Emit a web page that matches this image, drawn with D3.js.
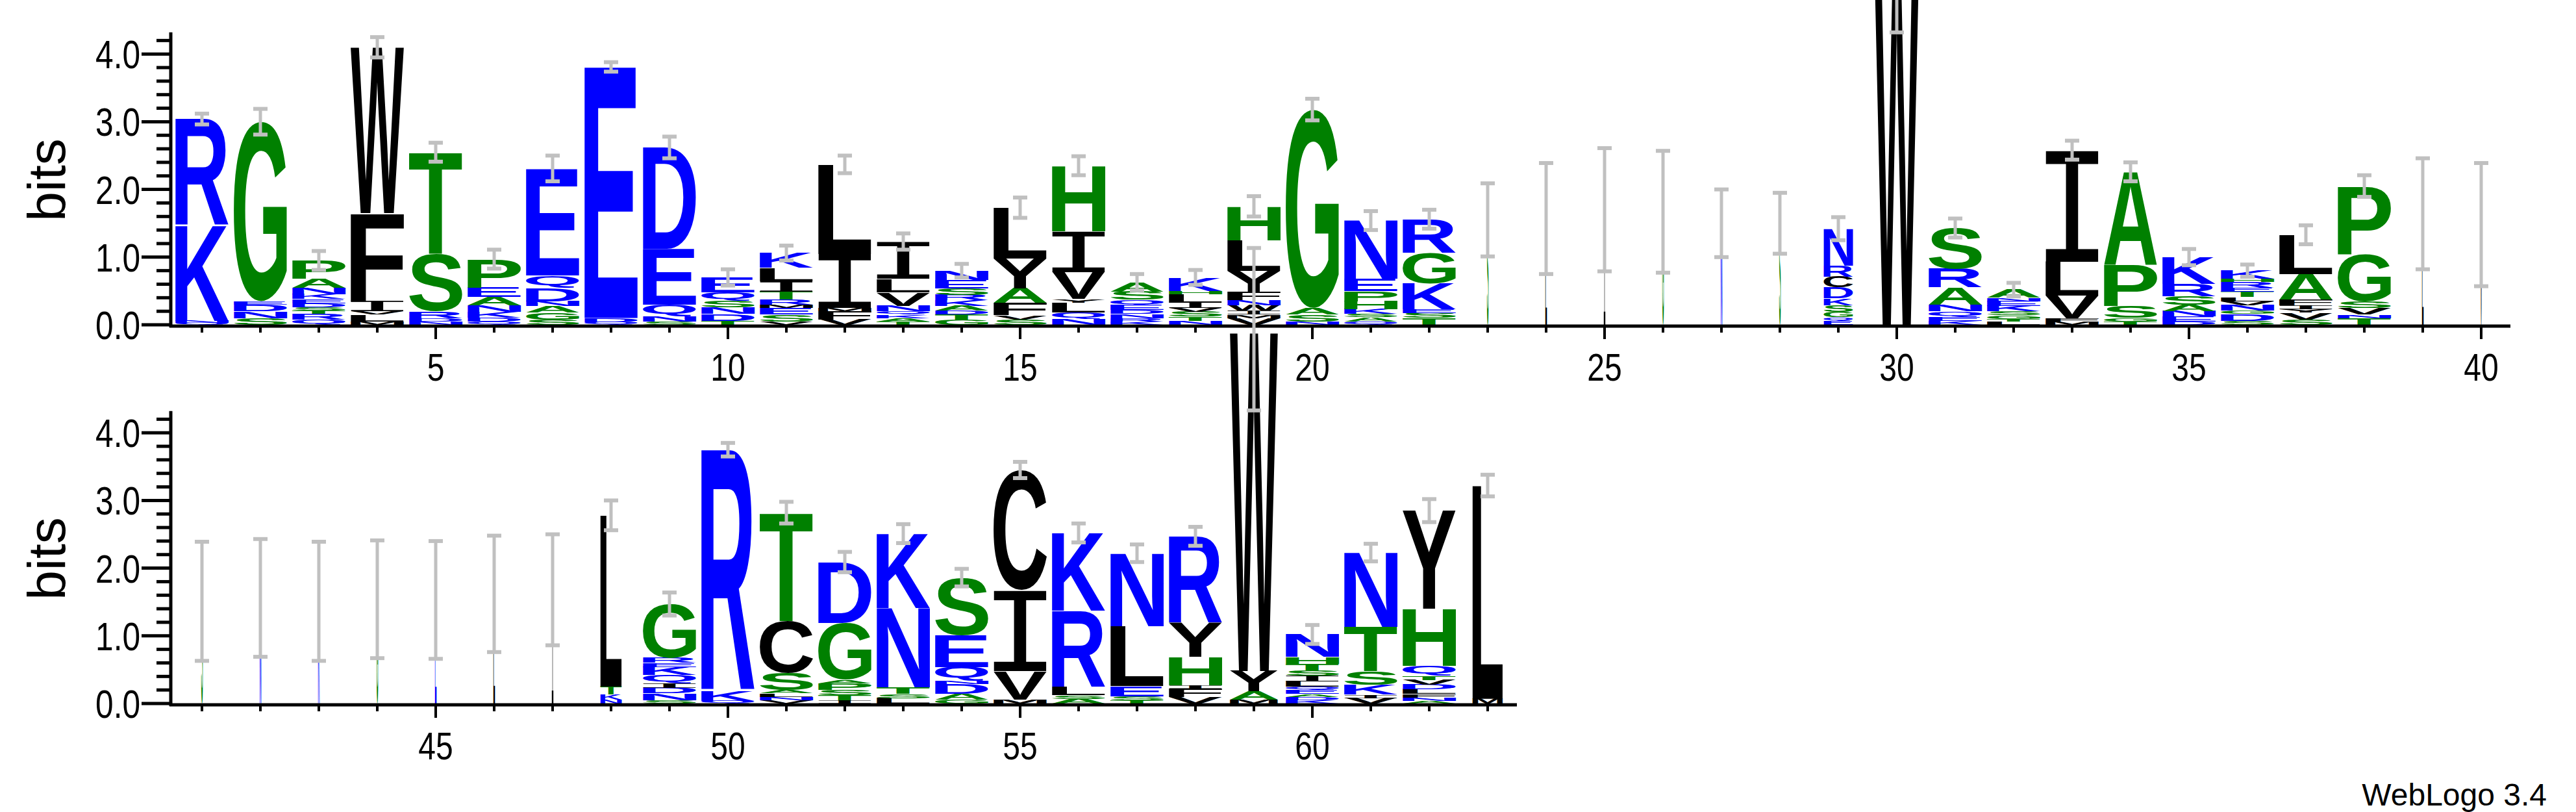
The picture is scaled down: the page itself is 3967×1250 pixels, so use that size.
<!DOCTYPE html>
<html><head><meta charset="utf-8">
<script src="https://cdn.jsdelivr.net/npm/d3@7"></script>
<style>html,body{margin:0;padding:0;background:#fff;}</style>
</head><body>
<svg id="c" width="3967" height="1250"></svg>
<script>
// ---- data ----
const positions = d3.range(1, 64);
const stacks = [
 [["Q",0.03],["N",0.03],["K",1.41],["R",1.57]],
 [["S",0.1],["N",0.1],["D",0.1],["E",0.05],["G",2.65]],
 [["Q",0.08],["R",0.08],["T",0.05],["S",0.05],["D",0.06],["E",0.06],["K",0.07],["N",0.1],["A",0.13],["P",0.27]],
 [["M",0.05],["L",0.1],["V",0.05],["I",0.15],["F",1.3],["W",2.45]],
 [["N",0.05],["D",0.05],["R",0.1],["S",0.85],["T",1.5]],
 [["Q",0.05],["D",0.06],["K",0.08],["N",0.1],["A",0.12],["E",0.14],["P",0.42]],
 [["S",0.08],["G",0.1],["A",0.1],["N",0.07],["D",0.2],["Q",0.18],["E",1.58]],
 [["Q",0.04],["D",0.06],["E",3.71]],
 [["S",0.05],["N",0.07],["Q",0.18],["E",0.82],["D",1.5]],
 [["T",0.06],["D",0.1],["N",0.1],["S",0.1],["Q",0.12],["E",0.22]],
 [["V",0.05],["S",0.1],["E",0.1],["M",0.05],["R",0.07],["T",0.12],["I",0.15],["L",0.2],["K",0.22]],
 [["V",0.08],["F",0.12],["M",0.05],["I",0.8],["L",1.32]],
 [["T",0.05],["A",0.05],["K",0.05],["Q",0.05],["N",0.08],["V",0.2],["L",0.2],["I",0.55]],
 [["G",0.07],["T",0.08],["D",0.06],["A",0.07],["K",0.08],["R",0.08],["S",0.1],["E",0.12],["N",0.14]],
 [["S",0.08],["V",0.06],["F",0.18],["A",0.22],["Y",0.44],["L",0.75]],
 [["N",0.08],["Q",0.1],["L",0.15],["Y",0.05],["V",0.4],["I",0.6],["H",0.97]],
 [["K",0.05],["R",0.05],["N",0.06],["D",0.06],["E",0.07],["Q",0.08],["S",0.12],["A",0.14]],
 [["N",0.06],["T",0.06],["S",0.07],["V",0.06],["I",0.08],["L",0.12],["H",0.05],["K",0.2]],
 [["V",0.1],["M",0.05],["I",0.06],["W",0.08],["N",0.07],["F",0.12],["Y",0.32],["L",0.45],["H",0.5]],
 [["N",0.05],["S",0.1],["A",0.1],["G",2.93]],
 [["Q",0.05],["A",0.06],["S",0.05],["K",0.07],["H",0.12],["P",0.15],["E",0.18],["N",0.86]],
 [["T",0.1],["S",0.07],["E",0.06],["K",0.38],["G",0.45],["R",0.5]],
 [["S",1.55]],[["L",1.57]],[["I",1.7]],[["G",1.67]],[["N",1.5]],[["S",1.5]],
 [["E",0.06],["Q",0.05],["G",0.08],["S",0.1],["K",0.1],["D",0.16],["C",0.16],["R",0.16],["N",0.55]],
 [["W",5.5]],
 [["K",0.06],["E",0.06],["Q",0.08],["N",0.1],["A",0.25],["R",0.28],["S",0.6]],
 [["L",0.05],["T",0.04],["G",0.05],["S",0.06],["K",0.08],["E",0.07],["N",0.05],["A",0.12]],
 [["M",0.05],["F",0.05],["V",0.33],["L",0.5],["I",1.65]],
 [["T",0.05],["G",0.05],["S",0.18],["P",0.6],["A",1.38]],
 [["D",0.05],["E",0.07],["N",0.08],["A",0.1],["S",0.12],["R",0.18],["K",0.4]],
 [["S",0.06],["D",0.1],["G",0.05],["N",0.08],["V",0.06],["L",0.06],["T",0.08],["E",0.06],["R",0.08],["H",0.05],["K",0.12]],
 [["S",0.08],["V",0.1],["Y",0.05],["I",0.06],["F",0.08],["A",0.38],["L",0.58]],
 [["T",0.1],["N",0.05],["V",0.1],["S",0.1],["G",0.7],["P",1.0]],
 [["L",1.64]],[["V",1.48]],
 [["S",1.51]],[["N",1.56]],[["K",1.51]],[["G",1.54]],[["E",1.53]],[["L",1.62]],[["I",1.68]],
 [["N",0.06],["K",0.07],["T",0.12],["L",2.53]],
 [["S",0.05],["N",0.1],["D",0.08],["I",0.07],["Q",0.12],["K",0.12],["E",0.06],["R",0.07],["G",0.8]],
 [["Q",0.04],["K",0.15],["R",3.56]],
 [["V",0.05],["N",0.05],["L",0.05],["A",0.05],["S",0.25],["C",0.77],["T",1.6]],
 [["I",0.05],["T",0.07],["S",0.08],["P",0.1],["A",0.05],["G",0.84],["D",0.9]],
 [["L",0.08],["S",0.06],["T",0.1],["N",1.17],["K",1.1]],
 [["G",0.06],["A",0.08],["D",0.15],["N",0.05],["Q",0.2],["E",0.47],["S",0.85]],
 [["M",0.06],["V",0.42],["I",1.2],["C",1.77]],
 [["A",0.07],["S",0.05],["L",0.12],["R",1.13],["K",1.15]],
 [["T",0.05],["S",0.06],["E",0.15],["L",0.88],["N",1.08]],
 [["V",0.1],["F",0.12],["I",0.05],["H",0.42],["Y",0.5],["R",1.28]],
 [["M",0.06],["A",0.12],["Y",0.3],["W",5.0]],
 [["K",0.05],["D",0.05],["A",0.04],["E",0.06],["Q",0.05],["L",0.08],["I",0.08],["S",0.08],["T",0.1],["H",0.1],["N",0.33]],
 [["V",0.08],["I",0.05],["K",0.15],["S",0.2],["T",0.65],["N",1.1]],
 [["A",0.04],["N",0.05],["F",0.05],["L",0.07],["D",0.07],["V",0.07],["T",0.06],["Q",0.15],["H",0.84],["Y",1.45]],
 [["M",0.07],["L",3.15]]
];
// stack width as fraction of a full column (non-gap fraction)
const widthFrac = [1,1,1,1,1,1,1,1,1,1,1,1,1,1,1,1,1,1,1,1,1,1,
 0.03,0.03,0.03,0.03,0.03,0.03, 0.55, 0.85, 1,1,1,1,1,1,1,1, 0.03,0.03,
 0.03,0.03,0.03,0.03,0.03,0.03,0.03, 0.4, 1,1,1,1,1,1,1,1,1,1, 0.9, 1,1,1, 0.57];
// error bar half-widths (bits), centred on the stack top
const errHalf = [0.08,0.19,0.14,0.15,0.14,0.14,0.19,0.07,0.16,0.12,0.11,0.13,0.12,0.1,0.15,0.14,0.12,0.11,0.15,0.16,0.14,0.14,
 0.54,0.82,0.91,0.9,0.5,0.45, 0.17, 1.2, 0.14,0.1,0.14,0.14,0.12,0.09,0.14,0.16, 0.82,0.91,
 0.88,0.87,0.88,0.87,0.87,0.86,0.82, 0.22,0.17,0.1,0.16,0.15,0.14,0.13,0.12,0.14,0.13,0.14, 1.2, 0.14,0.13,0.17,0.16];
const errCenterOverride = {30: 5.52, 59: 5.53};
const yTicks = [0,1,2,3,4];
const xTickLabels = [5,10,15,20,25,30,35,40,45,50,55,60];
const colors = {blue:"RKDENQ", green:"GSTAPH", black:"WFLIVYCM"};

// ---- drawing ----
const svg = d3.select("#c");
const colorOf = c => colors.blue.includes(c) ? "#0000ff" : colors.green.includes(c) ? "#008000" : "#000000";
const FONT = "bold 200px 'Liberation Sans', Arial, sans-serif";
const FONT_I = "normal 200px 'Liberation Mono', 'DejaVu Sans Mono', monospace";
const fontOf = c => c === "I" ? FONT_I : FONT;
const ctx = document.createElement("canvas").getContext("2d");
const metricCache = {};
function metric(c){
  if(!metricCache[c]){ ctx.font = fontOf(c); const m = ctx.measureText(c);
    metricCache[c] = {L:m.actualBoundingBoxLeft, R:m.actualBoundingBoxRight, A:m.actualBoundingBoxAscent, D:m.actualBoundingBoxDescent}; }
  return metricCache[c];
}
const panels = [
  {first:1, last:40, x0:266, x1:3866, yBase:500},
  {first:41, last:63, x0:266, x1:2336, yBase:1083}
];
const bitPx = 104.2, fullW = 82;
const gAll = svg.append("g");
panels.forEach(p => {
  const x = d3.scaleLinear().domain([p.first-0.5, p.last+0.5]).range([p.x0, p.x1]);
  const y = d3.scaleLinear().domain([0, 4.32]).range([p.yBase, p.yBase - 4.32*bitPx]);
  const g = gAll.append("g");
  const pos = positions.filter(i => i>=p.first && i<=p.last);
  pos.forEach(i => {
    const st = stacks[i-1]; const w = fullW*widthFrac[i-1];
    let cum = 0;
    st.forEach(([ch,h]) => {
      const yTop = y(cum+h), hh = y(cum)-y(cum+h); cum += h;
      if(hh < 0.3) return;
      const m = metric(ch), iw = m.L+m.R, ih = m.A+m.D;
      g.append("text").text(ch)
        .attr("style", "font:"+fontOf(ch)).attr("fill", colorOf(ch))
        .attr("transform", `translate(${x(i)-w/2},${yTop}) scale(${w/iw},${hh/ih}) translate(${m.L},${m.A})`);
    });
    const tot = d3.sum(st, d=>d[1]);
    const c = errCenterOverride[i] !== undefined ? errCenterOverride[i] : tot;
    const lo = c-errHalf[i-1], hi = c+errHalf[i-1];
    const eg = g.append("g").attr("stroke","#c0c0c0");
    eg.append("line").attr("x1",x(i)).attr("x2",x(i)).attr("y1",y(lo)).attr("y2",y(hi)).attr("stroke-width",5);
    [lo,hi].forEach(v => eg.append("line").attr("x1",x(i)-11).attr("x2",x(i)+11).attr("y1",y(v)).attr("y2",y(v)).attr("stroke-width",6));
  });
  const ya = g.append("g").attr("stroke","#000");
  ya.append("line").attr("x1",p.x0-3).attr("x2",p.x0-3).attr("y1",y(4.32)).attr("y2",p.yBase+4).attr("stroke-width",5);
  d3.range(0, 4.3, 0.2).forEach(v => {
    const major = Math.abs(v - Math.round(v)) < 1e-6;
    ya.append("line").attr("x1",p.x0-3-(major?45:22)).attr("x2",p.x0-3).attr("y1",y(v)).attr("y2",y(v)).attr("stroke-width",5);
  });
  yTicks.forEach(v => {
    g.append("text").text(v.toFixed(1))
      .attr("transform",`translate(${p.x0-50},${y(v)+22}) scale(0.8,1)`)
      .attr("text-anchor","end").attr("font-family","'Liberation Sans', Arial, sans-serif").attr("font-size",62);
  });
  g.append("text").text("bits").attr("transform",`translate(${100},${p.yBase-223}) rotate(-90)`)
    .attr("text-anchor","middle").attr("font-family","'Liberation Sans', Arial, sans-serif").attr("font-size",82);
  const xa = g.append("g").attr("stroke","#000");
  xa.append("line").attr("x1",p.x0-5).attr("x2",p.x1).attr("y1",p.yBase+2).attr("y2",p.yBase+2).attr("stroke-width",5);
  pos.forEach(i => {
    const major = xTickLabels.includes(i);
    xa.append("line").attr("x1",x(i)).attr("x2",x(i)).attr("y1",p.yBase+2).attr("y2",p.yBase+(major?22:12)).attr("stroke-width",4);
    if(major) g.append("text").text(i)
      .attr("transform",`translate(${x(i)},${p.yBase+86}) scale(0.8,1)`)
      .attr("text-anchor","middle").attr("font-family","'Liberation Sans', Arial, sans-serif").attr("font-size",60);
  });
});
svg.append("text").text("WebLogo 3.4").attr("x",3922).attr("y",1240).attr("text-anchor","end")
  .attr("font-family","'Liberation Sans', Arial, sans-serif").attr("font-size",48);
</script>
</body></html>
